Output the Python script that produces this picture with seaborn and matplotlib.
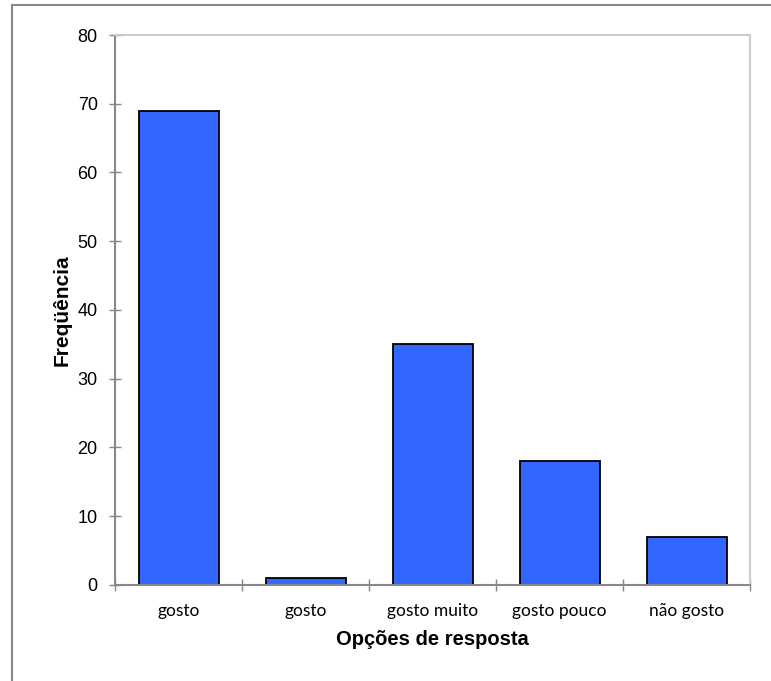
import matplotlib
matplotlib.use('Agg')
import matplotlib.pyplot as plt
import seaborn as sns
import pandas as pd
from matplotlib.patches import Rectangle

categories = ['gosto', 'gosto ', 'gosto muito', 'gosto pouco', 'não gosto']
tick_labels = ['gosto', 'gosto', 'gosto muito', 'gosto pouco', 'não gosto']
frequencias = [69, 1, 35, 18, 7]

df = pd.DataFrame({'opcao': categories, 'freq': frequencias})

sns.set_style('white')
plt.rcParams['font.family'] = ['Lato', 'DejaVu Sans']
plt.rcParams['text.color'] = 'black'
plt.rcParams['axes.labelcolor'] = 'black'
plt.rcParams['xtick.color'] = 'black'
plt.rcParams['ytick.color'] = 'black'

fig = plt.figure(figsize=(7.71, 6.81), dpi=100)
ax = fig.add_axes([0.1492, 0.141, 0.8236, 0.8076])

sns.barplot(data=df, x='opcao', y='freq', color='#3366FF', saturation=1,
            width=0.63, edgecolor='black', linewidth=1.3, ax=ax)

ax.set_ylim(0, 80)
ax.set_xlim(-0.5, 4.5)
ax.set_yticks(range(0, 81, 10))
ax.set_xticks([i - 0.5 for i in range(6)], minor=False)
ax.set_xticklabels([])
ax.set_xticks(range(5), minor=True)
ax.set_xticklabels(tick_labels, minor=True, fontsize=12.5)
ax.tick_params(axis='x', which='minor', bottom=False, length=0, pad=13,
               labelcolor='black')
ax.tick_params(axis='x', which='major', bottom=True, direction='inout',
               length=9, width=1, color='#888888')
ax.tick_params(axis='y', left=True, direction='inout', length=9, width=1,
               color='#888888', labelsize=13, pad=8, labelcolor='black')
for lbl in ax.get_yticklabels():
    lbl.set_family(['Liberation Sans', 'DejaVu Sans'])

for side in ['left', 'bottom']:
    ax.spines[side].set_color('#888888')
    ax.spines[side].set_linewidth(1.5)
for side in ['top', 'right']:
    ax.spines[side].set_visible(True)
    ax.spines[side].set_color('#CCCCCC')
    ax.spines[side].set_linewidth(1.5)

ax.set_xlabel('Opções de resposta', fontsize=14.5, fontweight='bold',
              family=['Liberation Sans', 'DejaVu Sans'], labelpad=8)
ax.set_ylabel('Freqüência', fontsize=15, fontweight='bold',
              family=['Liberation Sans', 'DejaVu Sans'], labelpad=4)

# outer chart frame (runs off the right and bottom edges)
fig.patches.append(Rectangle((12 / 771, -0.05), 1.0, 1 - 5 / 681 + 0.05,
                             transform=fig.transFigure, fill=False,
                             edgecolor='#888888', linewidth=1.5))

fig.savefig('out.png', dpi=100)
